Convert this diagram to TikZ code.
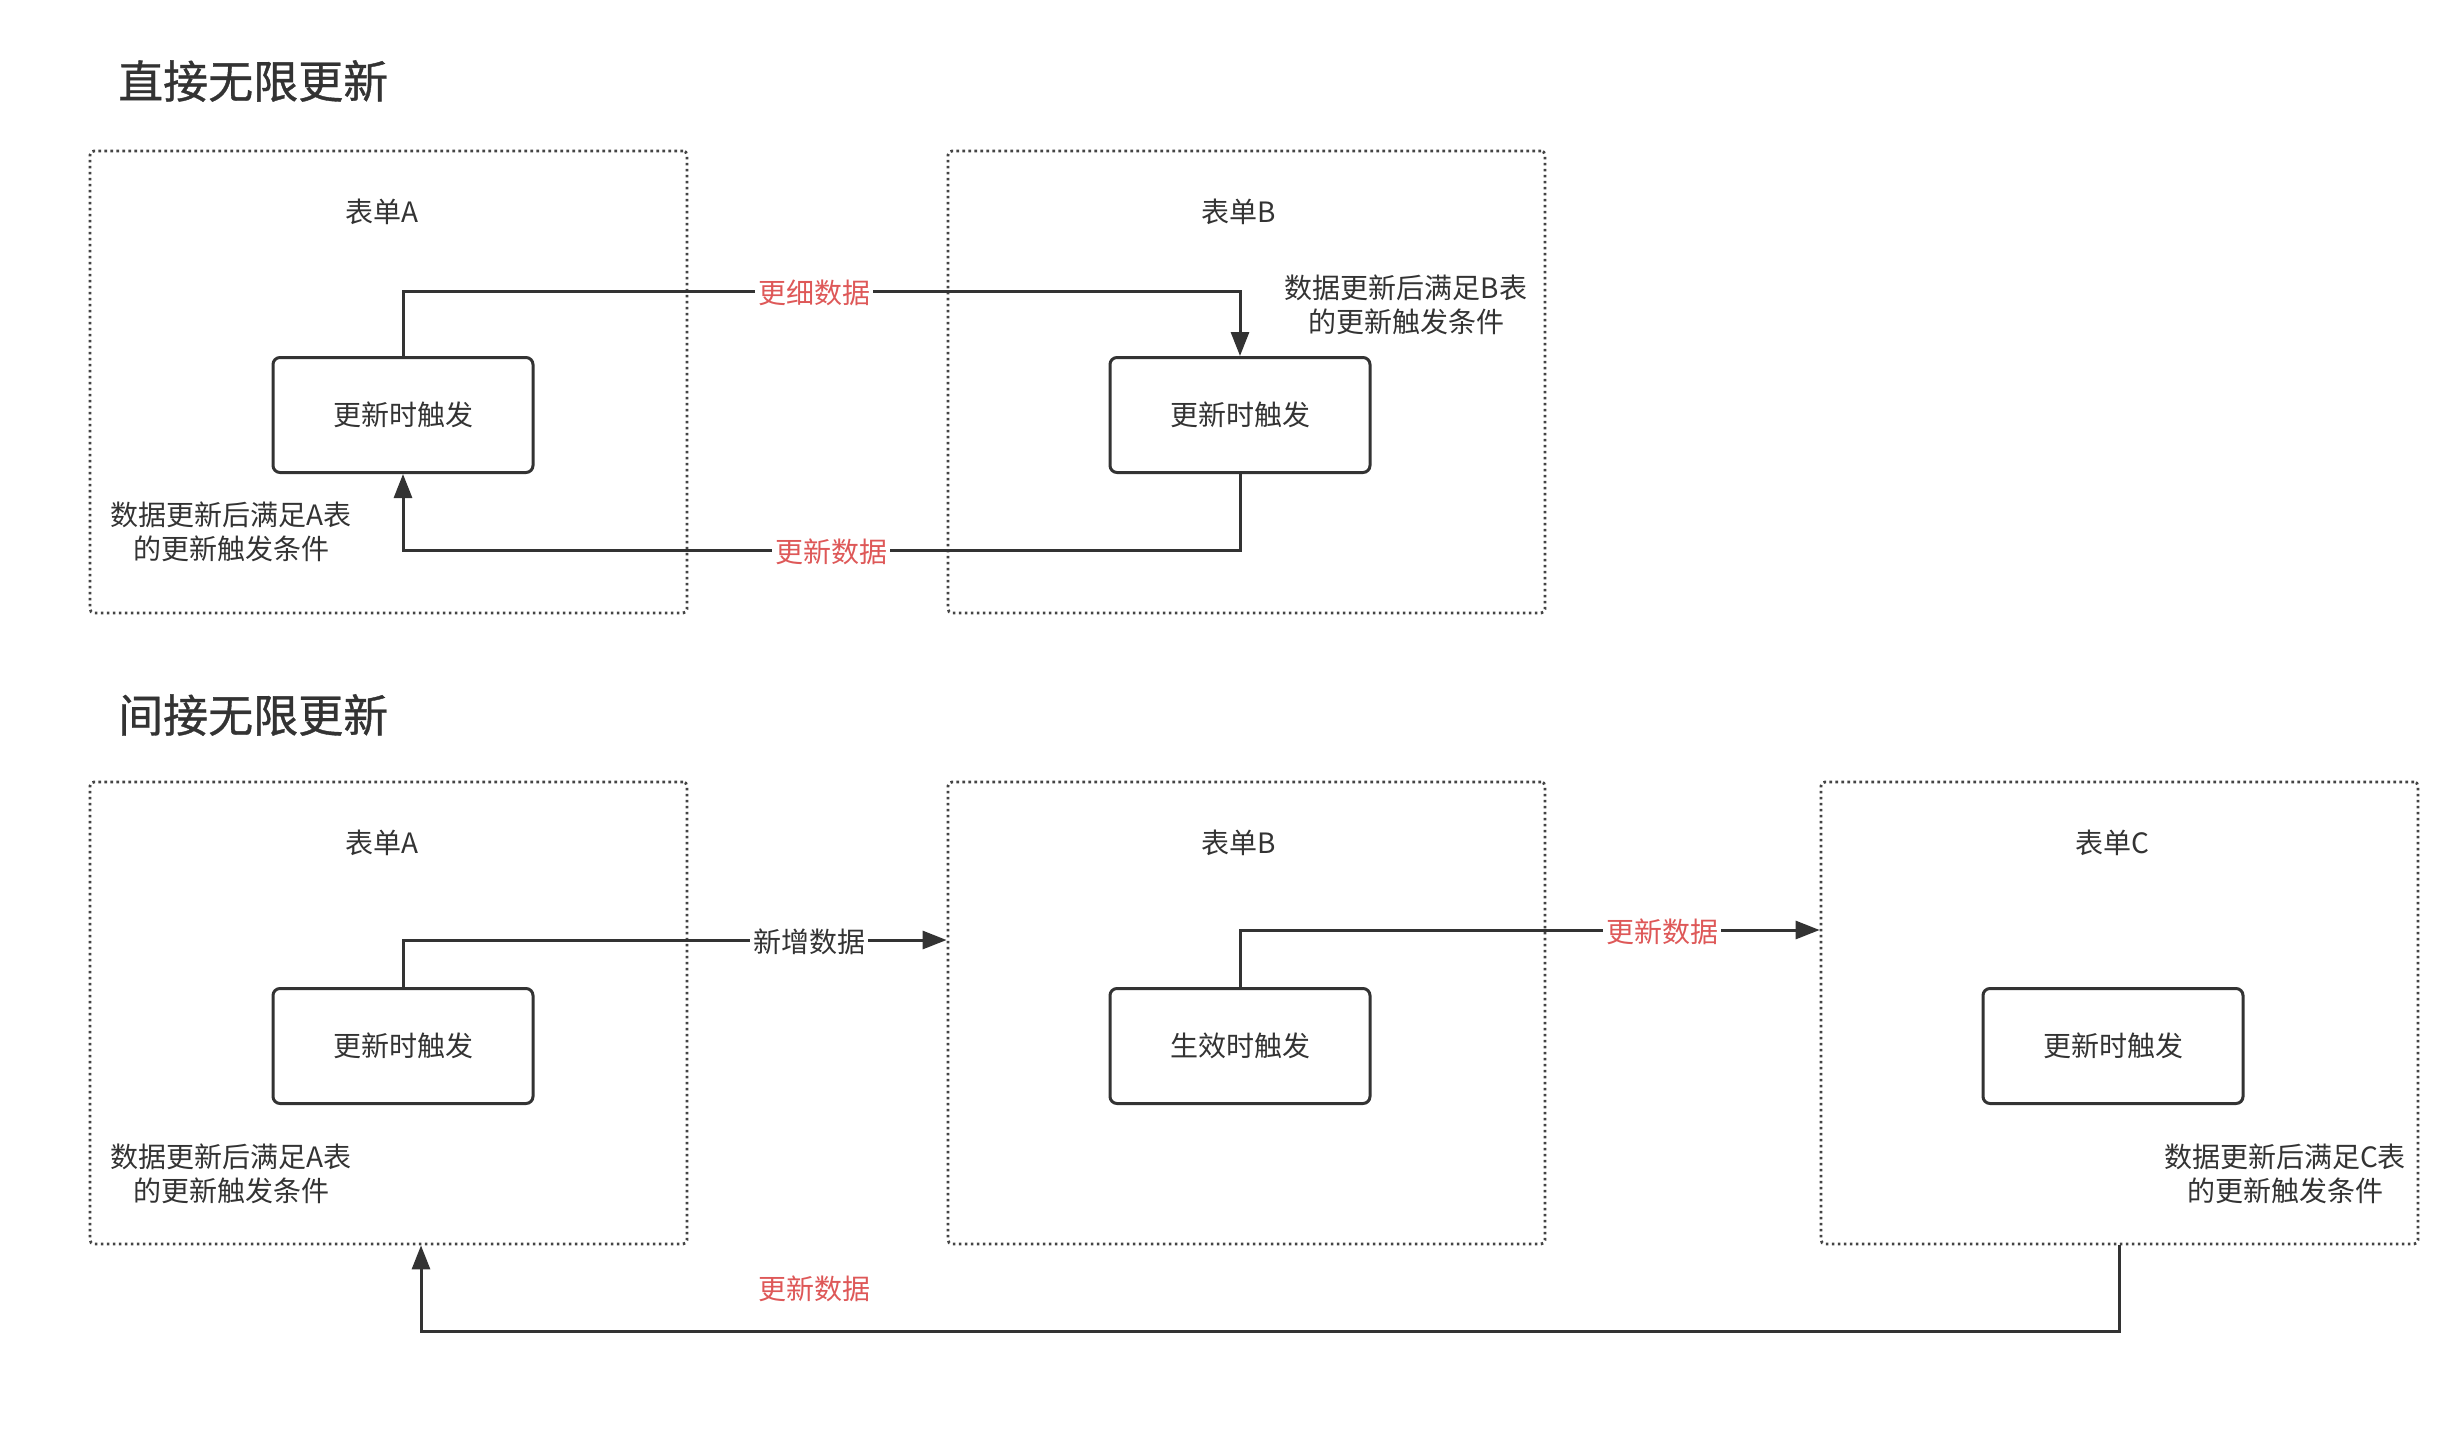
\documentclass[tikz,border=0pt]{standalone}
\usepackage{fontspec}
\setmainfont{Noto Sans CJK SC}
\newfontfamily\titlefont{Noto Sans CJK SC}[FakeBold=0.8]
\usetikzlibrary{arrows.meta,calc}
\definecolor{ink}{HTML}{333333}
\definecolor{redlbl}{RGB}{222,88,88}
\definecolor{dotc}{HTML}{444444}
\begin{document}
\begin{tikzpicture}[x=1pt,y=-1pt,
  container/.style={draw=dotc, line width=2.8pt, dash pattern=on 2.6pt off 3.4pt, rounded corners=4pt, minimum width=597pt, minimum height=462pt, inner sep=0pt},
  trig/.style={draw=ink, line width=3pt, rounded corners=7pt, minimum width=260pt, minimum height=115pt, font=\fontsize{28}{34}\selectfont, text=ink},
  title/.style={font=\titlefont\fontsize{45}{54}\selectfont, text=ink, anchor=west, inner sep=0pt},
  txt/.style={font=\fontsize{28}{34}\selectfont, text=ink, align=center, inner sep=0pt},
  lbl/.style={font=\fontsize{28}{34}\selectfont, fill=white, inner sep=3pt},
  conn/.style={draw=ink, line width=3pt},
  arr/.style={conn, -{Triangle[length=24pt,width=18pt]}}
]
\useasboundingbox (0,0) rectangle (2444,1440);

% ---------- titles ----------
\node[title] (t1) at (118,81) {直接无限更新};
\node[title] (t2) at (118,715) {间接无限更新};

% ---------- row 1 ----------
\node[container] (ca1) at (388.5,382) {};
\node[container] (cb1) at (1246.5,382) {};
\node[txt] (na1) at (382,212) {表单A};
\node[txt] (nb1) at (1239,212) {表单B};
\node[trig] (a1) at (403,415) {更新时触发};
\node[trig] (b1) at (1240,415) {更新时触发};
\node[txt] (ann1) at (231,532) {数据更新后满足A表\\的更新触发条件};
\node[txt] (ann2) at (1406,305) {数据更新后满足B表\\的更新触发条件};

\coordinate (p1) at (403,291);
\coordinate (p2) at (1240,550);
\draw[arr] (a1.north) -- (p1) -| (b1.north);
\draw[arr] (b1.south) -- (p2) -| (a1.south);
\node[lbl, text=redlbl] (l1) at (814,293) {更细数据};
\node[lbl, text=redlbl] (l2) at (831,552) {更新数据};

% ---------- row 2 ----------
\node[container] (ca2) at (388.5,1013) {};
\node[container] (cb2) at (1246.5,1013) {};
\node[container] (cc2) at (2119.5,1013) {};
\node[txt] (na2) at (382,843) {表单A};
\node[txt] (nb2) at (1239,843) {表单B};
\node[txt] (nc2) at (2112,843) {表单C};
\node[trig] (a2) at (403,1046) {更新时触发};
\node[trig] (b2) at (1240,1046) {生效时触发};
\node[trig] (c2) at (2113,1046) {更新时触发};
\node[txt] (ann3) at (231,1174) {数据更新后满足A表\\的更新触发条件};
\node[txt] (ann4) at (2285,1174) {数据更新后满足C表\\的更新触发条件};

\coordinate (q1) at (403,940);
\coordinate (q2) at (1240,930);
\coordinate (q3) at (2119.5,1331);
\coordinate (q4) at (421,1331);
\draw[arr] (a2.north) -- (q1) -- (q1 -| cb2.west);
\draw[arr] (b2.north) -- (q2) -- (q2 -| cc2.west);
\draw[arr] (cc2.south) -- (q3) -- (q4) -- (q4 |- ca2.south);
\node[lbl, text=ink] (l3) at (809,942) {新增数据};
\node[lbl, text=redlbl] (l4) at (1662,932) {更新数据};
\node[lbl, text=redlbl] (l5) at (814,1289) {更新数据};
\end{tikzpicture}
\end{document}
